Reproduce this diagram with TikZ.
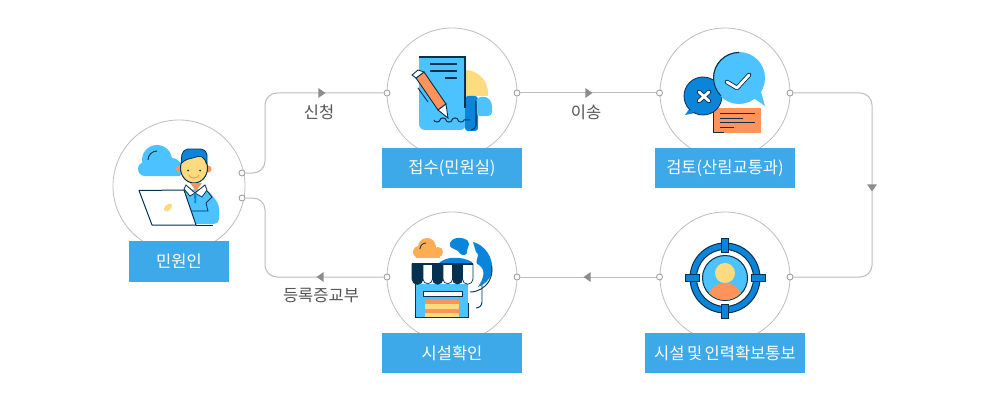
\documentclass[tikz,border=0pt]{standalone}
\usepackage{fontspec}
\setmainfont{Noto Sans CJK KR}
\usetikzlibrary{shapes.geometric}
\definecolor{linegray}{HTML}{BDBDBD}
\definecolor{tipgray}{HTML}{8C8C8C}
\definecolor{boxblue}{HTML}{3DA9E8}
\definecolor{skyblue}{HTML}{4CC2FF}
\definecolor{midblue}{HTML}{0A85D9}
\definecolor{navy}{HTML}{06304F}
\definecolor{peach}{HTML}{FF9359}
\definecolor{sand}{HTML}{FFDB80}
\definecolor{amber}{HTML}{FFAD52}
\definecolor{textgray}{HTML}{555555}
\tikzset{
  hub/.style={draw=linegray,fill=white,circle,line width=.8pt,minimum size=130pt,inner sep=0pt},
  port/.style={draw=linegray!80!black,fill=white,circle,line width=.8pt,minimum size=6pt,inner sep=0pt},
  title/.style={fill=boxblue,text=white,minimum height=40pt,inner sep=0pt,font=\fontsize{16.5}{18}\selectfont},
  flow/.style={draw=linegray,line width=1pt,rounded corners=12pt},
  tipmark/.style={fill=tipgray,isosceles triangle,isosceles triangle apex angle=70,minimum size=7pt,inner sep=0pt},
  caption/.style={text=textgray,font=\fontsize{16.5}{18}\selectfont},
}
\begin{document}
\begin{tikzpicture}[x=1pt,y=-1pt]
        \useasboundingbox (0,0) rectangle (990,401);
        \fill[white] (0,0) rectangle (990,401);
        % bends
        \coordinate(upbend)at(265,130);
        \coordinate(downbend)at(265,240);
        \coordinate(rightbend)at(872,185);
        % circles
        \node(citizen)at(179,186)[hub,minimum size=132pt]{};
        \node(intake)at(452,93)[hub]{};
        \node(review)at(725,93)[hub]{};
        \node(notice)at(725,277)[hub]{};
        \node(check)at(452,277)[hub]{};
        % ports
        \node(citizenA)at(242,173)[port]{};
        \node(citizenB)at(242,198)[port]{};
        \node(intakeL)at(387,93)[port]{};
        \node(intakeR)at(517,93)[port]{};
        \node(reviewL)at(659.5,93)[port]{};
        \node(reviewR)at(790,93)[port]{};
        \node(noticeL)at(659.5,277)[port]{};
        \node(noticeR)at(790,277)[port]{};
        \node(checkL)at(387,277)[port]{};
        \node(checkR)at(517,277)[port]{};
        % connectors
        \draw[flow](citizenA)-|(upbend)|-(intakeL);
        \draw[flow](citizenB)-|(downbend)|-(checkL);
        \draw[flow](intakeR)--(reviewL);
        \draw[flow](reviewR)-|(rightbend)|-(noticeR);
        \draw[flow](noticeL)--(checkR);
        \node(tipA)at(321,93)[tipmark]{};
        \node(tipB)at(321,277)[tipmark,rotate=180]{};
        \node(tipC)at(588,93)[tipmark]{};
        \node(tipD)at(588,277)[tipmark,rotate=180]{};
        \node(tipE)at(872,187)[tipmark,rotate=-90]{};
        % icon citizen
        \fill[skyblue](157,160)circle(15);
        \fill[skyblue](145,169)circle(7);
        \fill[skyblue](172,167)circle(9);
        \fill[skyblue,rounded corners=2pt](143,162)rectangle(181,176);
        \draw[navy,line width=.9pt](148,160)arc(180:270:9);
        \fill[skyblue,rounded corners=5pt](178,190)--(207,189)--(219,204)--(219,224)--(190,224)--cycle;
        \fill[peach](179.5,169)circle(3.5);
        \fill[peach](208,169)circle(3.5);
        \filldraw[draw=navy,line width=1pt,fill=sand](194,168)ellipse(13.5 and 15);
        \filldraw[draw=navy,line width=.8pt,fill=midblue,rounded corners=2pt](181,164)--(182,153)--(186,149)--(203,149)--(207,153)--(207,165)--(204,158)--(200,156)--(185,160)--cycle;
        \draw[peach,line width=1pt](189,175)arc(180:0:5 and 3);
        \fill[navy](188,170.5)circle(1);
        \fill[navy](200,170.5)circle(1);
        \fill[peach](190,183)--(202,183)--(196,191)--cycle;
        \filldraw[draw=navy,line width=.8pt,fill=white](186,185)--(195,193)--(190,196)--(184,189)--cycle;
        \filldraw[draw=navy,line width=.8pt,fill=white](205,185)--(195,193)--(202,197)--(207,190)--cycle;
        \fill[midblue](194,193)--(196.5,193)--(196,203)--(194.5,203)--cycle;
        \draw[navy,line width=.8pt](207,191)--(212,197)--(206,203)--(208,211)--(190,211);
        \filldraw[draw=navy,line width=1pt,fill=white,line join=round](139,190.5)--(184,190)--(196,225)--(152,225)--cycle;
        \draw[navy,line width=1pt](196,225)--(213,225);
        \fill[sand,rotate around={45:(168,207.5)}](168,207.5)ellipse(5 and 3);
        % icon intake
        \begin{scope}
        \clip(465,60)rectangle(495,96);
        \fill[sand](465,93)circle(23);
        \end{scope}
        \fill[skyblue,rounded corners=6pt](419,50)--(466,50)--(466,130)--(419,130)--cycle;
        \fill[white](415,45)rectangle(470,57);
        \fill[midblue,rounded corners=3pt](465,96)--(478,96)--(478,131)--(465,131)--cycle;
        \fill[skyblue,rounded corners=4pt](476,116)--(476,98)--(486,96)--(492,102)--(492,116)--cycle;
        \draw[navy,line width=1.1pt](419,57)--(465,57)--(465,108);
        \draw[navy,line width=1.1pt](476,101)--(476,125)arc(0:90:5);
        \draw[navy,line width=1.1pt](430,64)--(457,64);
        \draw[navy,line width=1.1pt](430,71)--(457,71);
        \draw[navy,line width=1.1pt](445,78)--(457,78);
        \draw[navy,line width=1pt](434,120)arc(180:0:3 and 2)arc(180:360:3 and 2)arc(180:0:3 and 2)arc(180:360:3 and 2)arc(180:0:3 and 2)--(470,120);
        \filldraw[draw=navy,line width=.9pt,fill=peach](416,78)--(424,72)--(446,104)--(438,110)--cycle;
        \filldraw[draw=navy,line width=.9pt,fill=white](438,110)--(446,104)--(448,118)--cycle;
        \filldraw[draw=navy,line width=.9pt,fill=white](412,75)--(418,70)--(424,72)--(416,78)--cycle;
        \draw[navy,line width=.9pt](418,88)--(428,102);
        % icon review
        \fill[peach](713,108)rectangle(761,133);
        \draw[navy,line width=1pt](713,108)--(713,133)--(724,133);
        \draw[navy,line width=1pt](720,114)--(755,114);
        \draw[navy,line width=1pt](720,118.5)--(743,118.5);
        \draw[navy,line width=1pt](720,123)--(755,123);
        \draw[navy,line width=1pt](720,128)--(734,128);
        \fill[midblue](692,105)--(685,115)--(700,112)--cycle;
        \filldraw[draw=navy,line width=.8pt,fill=midblue](703,96)circle(19);
        \fill[midblue](692,103)--(690,112)--(700,112)--cycle;
        \draw[navy,line width=4.5pt,line cap=round](699,92)--(709,101)(709,92)--(699,101);
        \draw[white,line width=2.8pt,line cap=round](699,92)--(709,101)(709,92)--(699,101);
        \fill[skyblue](739,78)circle(26);
        \fill[skyblue](752,97)--(765,106)--(760,88)--cycle;
        \draw[navy,line width=1.1pt](721,96)arc(135:270:25.5);
        \draw[navy,line width=4.5pt,line cap=round,line join=round](727,82)--(737,88)--(749,75);
        \draw[white,line width=2.8pt,line cap=round,line join=round](727,82)--(737,88)--(749,75);
        % icon notice
        \filldraw[draw=navy,line width=1pt,fill=midblue,even odd rule](725,278)circle(35)(725,278)circle(28.5);
        \filldraw[draw=navy,line width=.7pt,fill=midblue](721.7,238)rectangle(728.3,252);
        \filldraw[draw=navy,line width=.7pt,fill=midblue](721.7,304)rectangle(728.3,318);
        \filldraw[draw=navy,line width=.7pt,fill=midblue](685,274.7)rectangle(699,281.3);
        \filldraw[draw=navy,line width=.7pt,fill=midblue](751,274.7)rectangle(765,281.3);
        \filldraw[draw=navy,line width=1pt,fill=skyblue](725,278)circle(22.5);
        \begin{scope}
        \clip(725,278)circle(22);
        \fill[peach](725,299)ellipse(17 and 16);
        \end{scope}
        \fill[sand](725,273)circle(10);
        % icon check
        \fill[midblue](450,243)..controls(453,236)and(464,237)..(468,241)..controls(471,245)and(466,249)..(467,253)..controls(465,257)and(460,255)..(458,251)..controls(454,248)and(449,249)..(450,243)--cycle;
        \fill[midblue](473,242)..controls(485,245)and(494,258)..(492,272)..controls(490,280)and(484,285)..(478,287)..controls(484,278)and(486,270)..(479,265)..controls(472,262)and(482,256)..(476,252)--cycle;
        \fill[midblue](438,264)..controls(445,256)and(462,256)..(472,262)--(472,266)--(438,266)--cycle;
        \draw[navy,line width=.9pt](470,292)arc(90:-10:22 and 22);
        \draw[navy,line width=.9pt](482,285)--(482,302)arc(0:90:6);
        \fill[amber](427,247)circle(9);
        \fill[amber](438,252)circle(5);
        \fill[amber](419,252)circle(6);
        \fill[amber](416,250)rectangle(440,258);
        \draw[navy,line width=.8pt](420,249)arc(180:270:6);
        \fill[skyblue](415,284)rectangle(468,317);
        \draw[navy,line width=1pt](415,282)--(415,317)--(468,317)--(468,303);
        \filldraw[draw=navy,line width=.8pt,fill=white](423,291)rectangle(462,296);
        \fill[sand](425,300)rectangle(459,317);
        \fill[peach](425,300)rectangle(459,304);
        \fill[peach](425,309)rectangle(459,313);
        \foreach \sx/\sw/\cl in {412/11/navy,423/9.5/white,432.5/10.5/navy,443/9.5/white,452.5/10/navy,462.5/10.5/white}{
          \filldraw[draw=navy,line width=.7pt,fill=\cl](\sx,264)--(\sx+\sw,264)--(\sx+\sw,279)arc(0:180:\sw/2)--cycle;
        }
        \draw[navy,line width=1.2pt](412,264)--(473,264);
        % titles
        \node(citizenT)at(179,261.5)[title,minimum width=100pt,minimum height=41pt]{민원인};
        \node(intakeT)at(452,168)[title,minimum width=140pt]{접수(민원실)};
        \node(reviewT)at(725,168)[title,minimum width=140pt]{검토(산림교통과)};
        \node(noticeT)at(725,353)[title,minimum width=160pt]{\spaceskip=2.5pt 시설 및 인력확보통보};
        \node(checkT)at(452,353)[title,minimum width=140pt]{시설확인};
        % captions
        \node(applyC)at(319,112)[caption]{신청};
        \node(moveC)at(586,112)[caption]{이송};
        \node(issueC)at(321,296)[caption]{등록증교부};
    \end{tikzpicture}
\end{document}
